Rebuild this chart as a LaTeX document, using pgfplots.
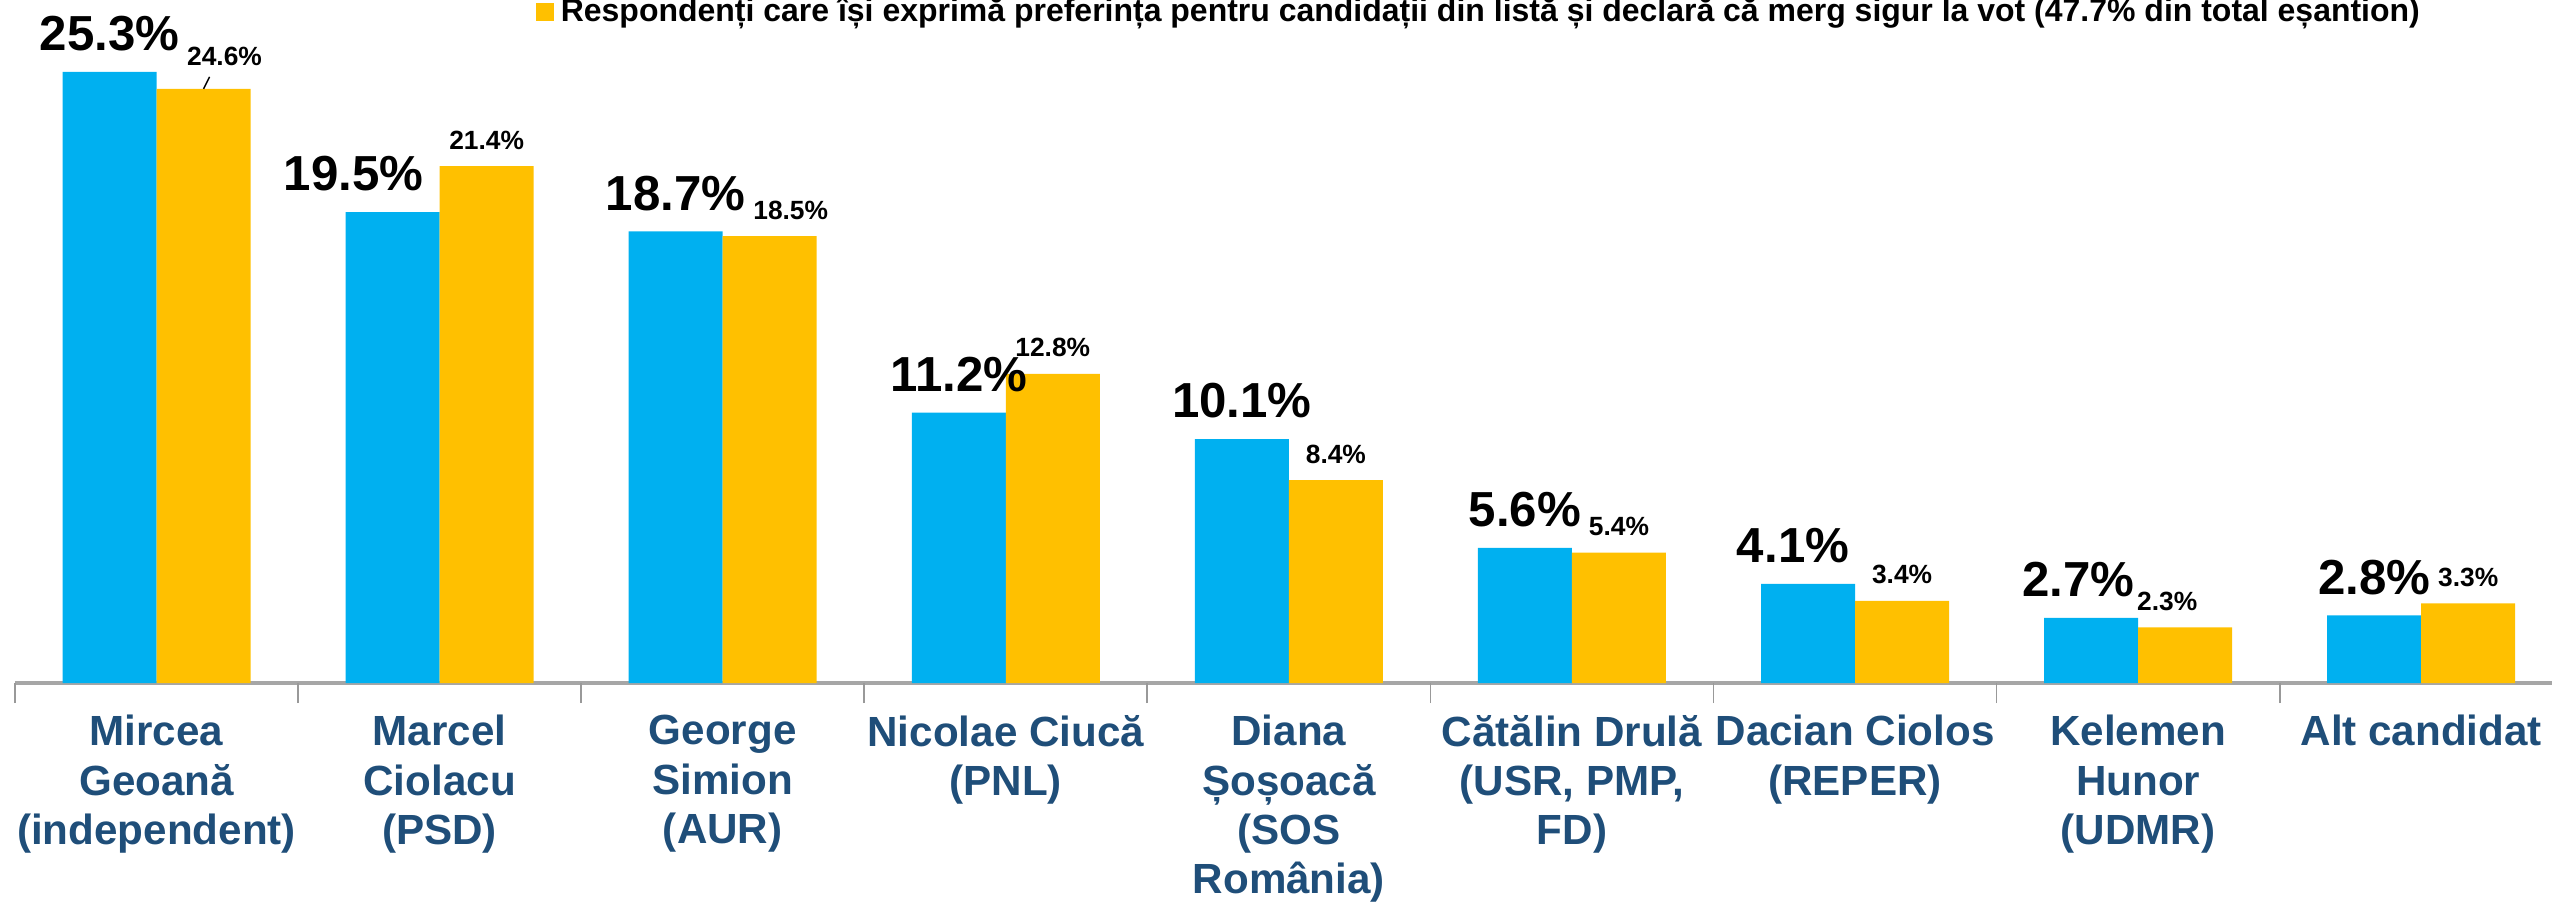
\documentclass[border=0pt]{standalone}
\usepackage{fontspec}
\setmainfont{Liberation Sans}
\usepackage{pgfplots}
\usepackage{pgfplotstable}
\pgfplotsset{compat=1.18}
\definecolor{barblue}{HTML}{00B0F0}
\definecolor{baryellow}{HTML}{FFC000}
\definecolor{catblue}{HTML}{1F4E79}

% toti respondentii / cei care merg sigur la vot
\pgfplotstableread{
x y
0 25.3
1 19.5
2 18.7
3 11.2
4 10.1
5 5.6
6 4.1
7 2.7
8 2.8
}\sigurvot
\pgfplotstableread{
x y
0 24.6
1 21.4
2 18.5
3 12.8
4 8.4
5 5.4
6 3.4
7 2.3
8 3.3
}\preferinta

\begin{document}
\begin{tikzpicture}
\begin{axis}[
    at={(0,0)}, anchor=south west,
    scale only axis, width=25.37cm, height=6.83cm,
    xmin=-0.5, xmax=8.462, ymin=0, ymax=28.28,
    ybar, bar width=0.94cm,
    hide y axis,
    axis x line*=bottom,
    x axis line style={draw=black!35, line width=0.9pt},
    xtick={0,...,8},
    xticklabels={{Mircea\\Geoană\\(independent)}, {Marcel\\Ciolacu\\(PSD)},
        {George\\Simion\\(AUR)}, {Nicolae Ciucă\\(PNL)},
        {Diana\\Șoșoacă\\(SOS\\România)}, {Cătălin Drulă\\(USR, PMP,\\FD)},
        {Dacian Ciolos\\(REPER)}, {Kelemen\\Hunor\\(UDMR)}, {Alt candidat}},
    major tick length=0pt,
    extra x ticks={-0.5,0.5,...,7.5},
    extra x tick labels={},
    extra x tick style={major tick length=0.2cm, tick align=outside,
        tick style={draw=black!40, line width=0.5pt}},
    xticklabel style={font=\fontsize{12}{14}\selectfont\bfseries, text=catblue,
        align=center, anchor=north, yshift=-0.2cm},
    /pgf/number format/assume math mode=true,
    clip=false,
    legend style={at={(rel axis cs:0.205,1)}, anchor=north west, yshift=0.1cm,
        draw=none, fill=none, inner sep=0pt,
        font=\fontsize{9.1}{10.5}\selectfont\bfseries},
    legend cell align=left,
]
\addplot[fill=barblue, draw=none, bar shift=-0.47cm, forget plot,
    nodes near coords={\pgfmathprintnumber[fixed,fixed zerofill,precision=1]{\pgfplotspointmeta}\%},
    every node near coord/.append style={font=\fontsize{14}{16}\selectfont\bfseries,
        text=black, inner sep=0pt, anchor=south, yshift=0.2cm},
    coordinate style/.condition={\coordindex==1}{xshift=-0.39cm},
    coordinate style/.condition={\coordindex==6}{xshift=-0.15cm},
    coordinate style/.condition={\coordindex==7}{xshift=-0.13cm},
] table[x=x, y=y] {\sigurvot};
\addplot[fill=baryellow, draw=none, bar shift=0.47cm,
    legend image code/.code={\fill[baryellow] (0cm,-0.09cm) rectangle (0.18cm,0.09cm);},
    nodes near coords={\pgfmathprintnumber[fixed,fixed zerofill,precision=1]{\pgfplotspointmeta}\%},
    every node near coord/.append style={font=\fontsize{7.5}{9}\selectfont\bfseries,
        text=black, inner sep=0pt, anchor=south, yshift=0.16cm},
    coordinate style/.condition={\coordindex==0}{xshift=0.21cm, yshift=0.06cm,
        append after command={([shift={(-0.15cm,-0.1cm)}]\tikzlastnode.south)
            edge[draw=black, line width=0.4pt] ([shift={(-0.21cm,-0.22cm)}]\tikzlastnode.south)}},
    coordinate style/.condition={\coordindex==2}{xshift=0.21cm},
    coordinate style/.condition={\coordindex==7}{xshift=-0.18cm},
] table[x=x, y=y] {\preferinta};
\addlegendentry{Respondenți care își exprimă preferința pentru candidații din listă și declară că merg sigur la vot (47.7\% din total eșantion)}
\end{axis}
\pgfresetboundingbox
\useasboundingbox (-0.15cm,-2.2cm) rectangle (25.37cm,6.83cm);
\end{tikzpicture}
\end{document}
